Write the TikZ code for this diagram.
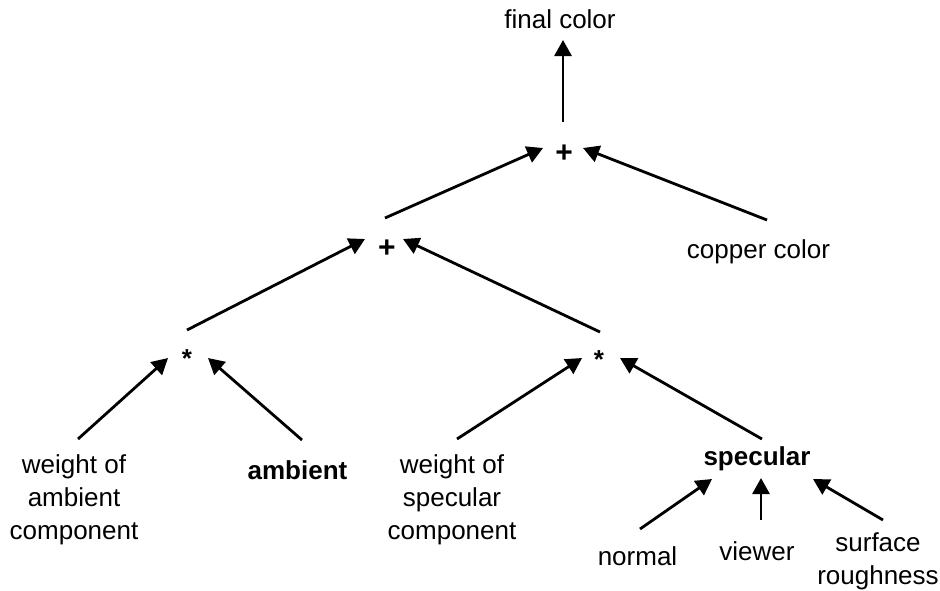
\documentclass[tikz,border=0pt]{standalone}
\usepackage{fontspec}
\setmainfont{Liberation Sans}
\usetikzlibrary{arrows.meta}

\begin{document}
\begin{tikzpicture}[%
        x=0.5pt, y=-0.5pt,
        every node/.style={anchor=base, inner sep=0pt, align=center,
          font=\fontsize{13}{16.5}\selectfont},
        op/.style={font=\fontsize{13}{16.5}\selectfont\bfseries},
        sum/.style={font=\fontsize{15}{16.5}\selectfont\bfseries},
        >={Triangle[length=8pt,width=8.5pt]},
        line width=1.4pt
      ]
      \useasboundingbox (0,0) rectangle (940,590);
      % operators (base = last line of text)
      \node (final) at (560,28) {final color};
      \node [sum] (sum1) at (564,162) {+};
      \node [sum] (sum2) at (387,257) {+};
      \node [op] (mulA) at (187,367) {*};
      \node [op] (mulS) at (599,368) {*};
      % inputs
      \node (copper) at (758.5,258) {copper color};
      \node (wamb) at (74,539) {weight of\\ambient\\component};
      \node [op] (amb) at (297.5,479) {ambient};
      \node (wspec) at (452,539) {weight of\\specular\\component};
      \node [op] (spec) at (757,465) {specular};
      \node (normal) at (637.5,565) {normal};
      \node (viewer) at (757,560) {viewer};
      \node (rough) at (878,584) {surface\\roughness};
      \path [draw] ([shift={(-1,-40)}]sum1.base) edge[->] ([shift={(3,12)}]final.base)
      ([shift={(-2,-39)}]sum2.base) edge[->] ([shift={(-21,-14)}]sum1.base)
      ([shift={(8.5,-38)}]copper.base) edge[->] ([shift={(19,-14)}]sum1.base)
      ([shift={(0,-37)}]mulA.base) edge[->] ([shift={(-22,-18)}]sum2.base)
      ([shift={(1,-36)}]mulS.base) edge[->] ([shift={(16,-18)}]sum2.base)
      ([shift={(4,-100)}]wamb.base) edge[->] ([shift={(-19,-9)}]mulA.base)
      ([shift={(4.5,-39)}]amb.base) edge[->] ([shift={(21,-9)}]mulA.base)
      ([shift={(5,-100)}]wspec.base) edge[->] ([shift={(-17,-10)}]mulS.base)
      ([shift={(5,-26)}]spec.base) edge[->] ([shift={(21,-10)}]mulS.base)
      ([shift={(2.5,-36)}]normal.base) edge[->] ([shift={(-45,14)}]spec.base)
      ([shift={(4,-40)}]viewer.base) edge[->] ([shift={(4,13)}]spec.base)
      ([shift={(5,-64)}]rough.base) edge[->] ([shift={(56,14)}]spec.base);
\end{tikzpicture}
\end{document}
